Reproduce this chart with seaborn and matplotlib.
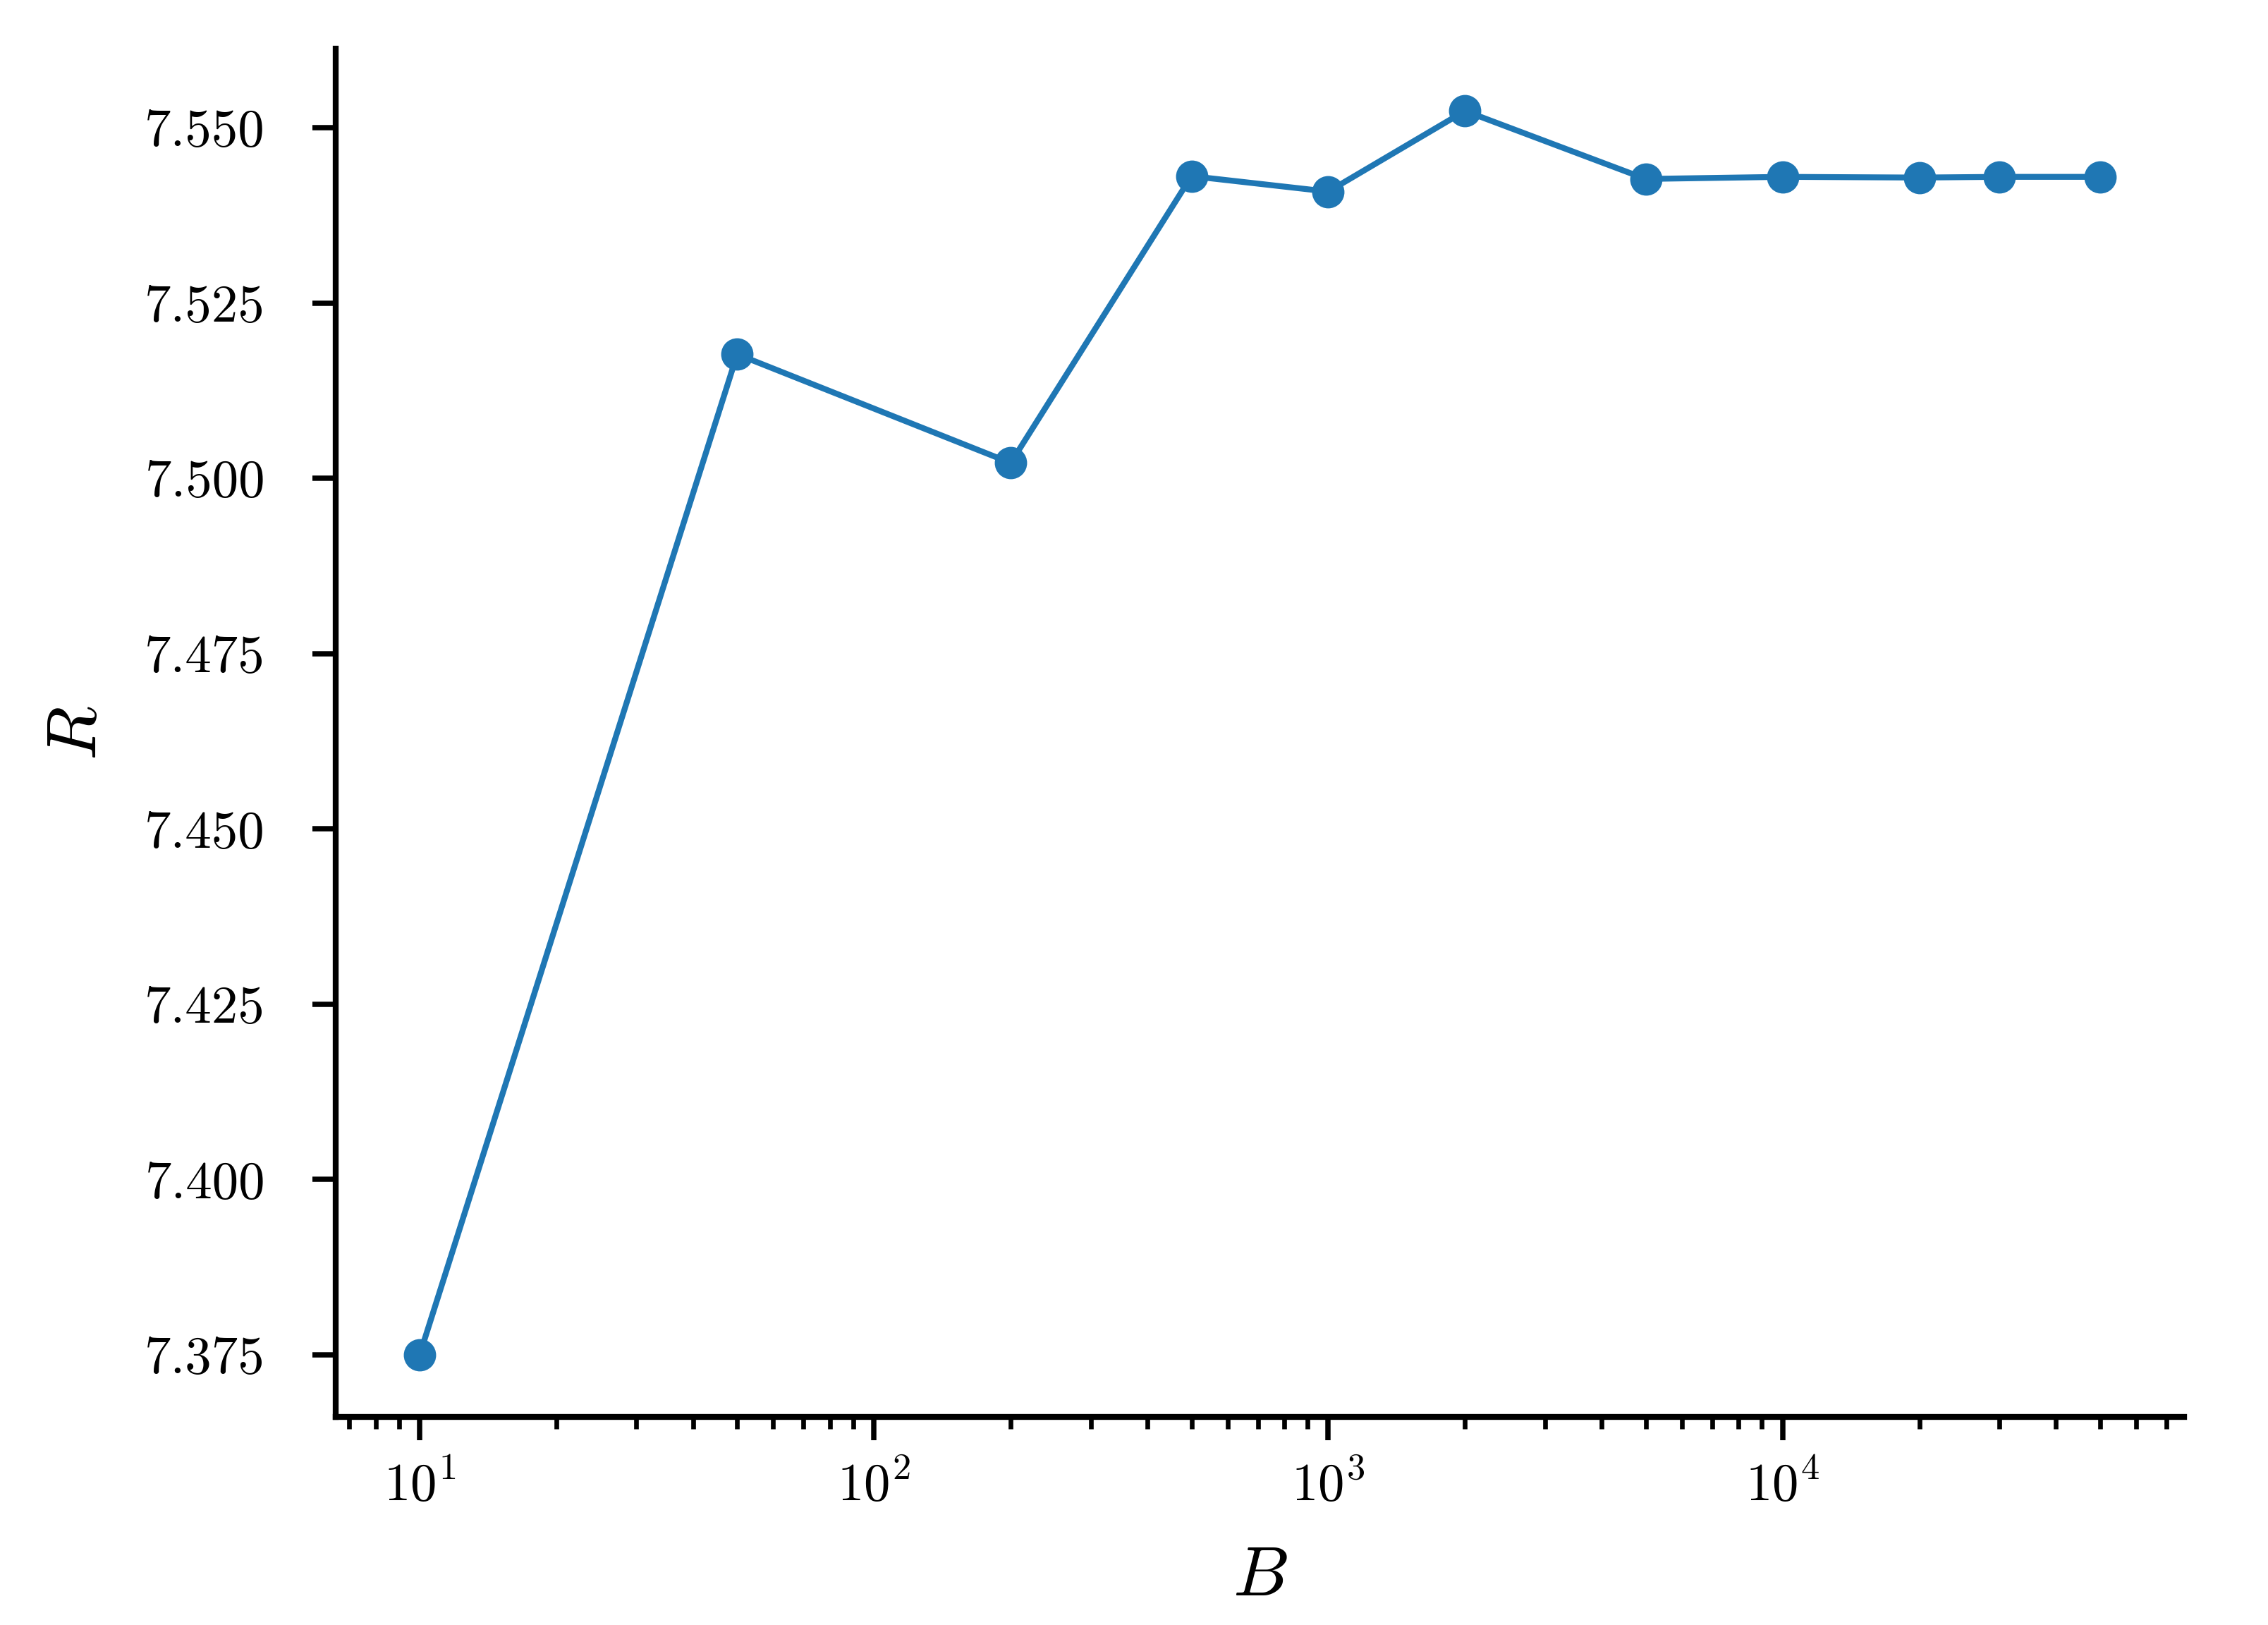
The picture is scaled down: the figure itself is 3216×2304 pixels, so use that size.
import pandas as pd
import matplotlib
matplotlib.use("Agg")
import matplotlib.pyplot as plt
import seaborn as sns

# Dữ liệu
B = [10, 50, 200, 500, 1000, 2000, 5000, 10000, 20000, 30000, 50000]
R = [7.3750, 7.5177, 7.5022, 7.5431, 7.5409, 7.5524, 7.5427, 7.5430, 7.5429, 7.5430, 7.5430]

df = pd.DataFrame({"B": B, "R": R})

sns.set_theme(style="ticks")
plt.rcParams.update({
    "font.family": "serif",
    "font.serif": ["cmr10"],
    "mathtext.fontset": "cm",
    "axes.unicode_minus": False,
    "axes.formatter.use_mathtext": True,
    "axes.linewidth": 1.0,
    "axes.edgecolor": "black",
    "text.color": "black",
    "axes.labelcolor": "black",
    "xtick.color": "black",
    "ytick.color": "black",
    "xtick.major.size": 4,
    "xtick.minor.size": 2,
    "ytick.major.size": 4,
    "xtick.major.width": 0.9,
    "xtick.minor.width": 0.8,
    "ytick.major.width": 0.9,
    "xtick.major.pad": 3.5,
    "ytick.major.pad": 8,
    "xtick.labelsize": 9,
    "ytick.labelsize": 9,
    "axes.labelsize": 12,
})

fig, ax = plt.subplots(figsize=(5.36, 3.84))
fig.subplots_adjust(left=0.148, right=0.963, top=0.970, bottom=0.128)
sns.lineplot(data=df, x="B", y="R", marker="o", markersize=5.5,
             markeredgewidth=0, linewidth=1.0, color="#1f77b4", ax=ax)
ax.set_xscale("log")
ax.set_xlabel(r"$B$", labelpad=6)
ax.set_ylabel(r"$R$", labelpad=6)
ax.yaxis.set_major_formatter(matplotlib.ticker.FormatStrFormatter("%.3f"))
sns.despine()
fig.savefig("out.png", dpi=600)
plt.close()
